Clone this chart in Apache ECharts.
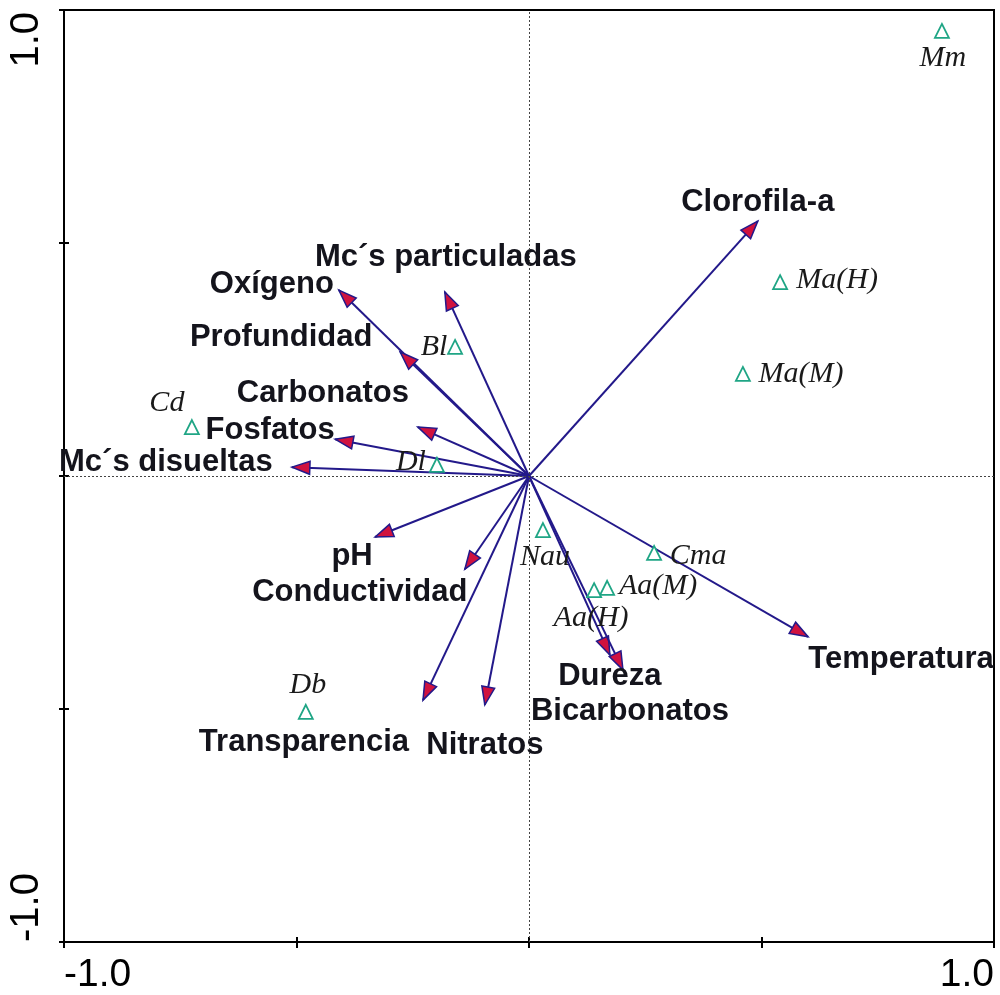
<!DOCTYPE html>
<html>
<head>
<meta charset="utf-8">
<style>
  html, body { margin: 0; padding: 0; background: #ffffff; }
  #chart { width: 1000px; height: 995px; }
</style>
<script src="https://cdn.jsdelivr.net/npm/echarts@6/dist/echarts.min.js"></script>
</head>
<body>
<div id="chart"></div>
<script>
// Environmental variables (biplot arrows): end-point coordinates on axes 1 and 2
const envNames = ['Clorofila-a', 'Mc\u00b4s particuladas', 'Ox\u00edgeno', 'Profundidad', 'Carbonatos',
  'Fosfatos', 'Mc\u00b4s disueltas', 'pH', 'Conductividad', 'Transparencia', 'Nitratos',
  'Dureza', 'Bicarbonatos', 'Temperatura'];
const envX = [0.492, -0.181, -0.409, -0.277, -0.239, -0.417, -0.510, -0.331, -0.138, -0.228, -0.095, 0.174, 0.202, 0.600];
const envY = [0.547, 0.395, 0.399, 0.266, 0.105, 0.079, 0.019, -0.131, -0.200, -0.481, -0.491, -0.384, -0.416, -0.345];

// Sampling sites (triangles)
const siteNames = ['Mm', 'Ma(H)', 'Ma(M)', 'Bl', 'Cd', 'Dl', 'Nau', 'Cma', 'Aa(M)', 'Aa(H)', 'Db'];
const siteX = [0.888, 0.540, 0.460, -0.159, -0.725, -0.198, 0.030, 0.269, 0.168, 0.140, -0.480];
const siteY = [0.955, 0.416, 0.219, 0.277, 0.105, 0.024, -0.116, -0.165, -0.240, -0.245, -0.506];

// Axis range and end tick labels
const axisMin = -1, axisMax = 1, axisStep = 0.5;
const tickValues = [-1, 1];
const tickLabels = ['-1.0', '1.0'];

// Label placement (pixel offsets from the mark)
const envLabelOffset = {
  'Clorofila-a': [0, -19], 'Mc\u00b4s particuladas': [1, -34], 'Ox\u00edgeno': [-67, -6],
  'Profundidad': [-119, -15], 'Carbonatos': [-95, -34], 'Fosfatos': [-65, -9],
  'Mc\u00b4s disueltas': [-126, -5], 'pH': [-23, 19], 'Conductividad': [-105, 23],
  'Transparencia': [-119, 42], 'Nitratos': [0, 41], 'Dureza': [0, 22],
  'Bicarbonatos': [7, 42], 'Temperatura': [93, 23]
};
const siteLabelOffset = {
  'Mm': [1, 27], 'Ma(H)': [57, -2], 'Ma(M)': [58, 0], 'Bl': [-21, 0], 'Cd': [-25, -24],
  'Dl': [-26, -3], 'Nau': [2, 27], 'Cma': [44, 3], 'Aa(M)': [51, -2], 'Aa(H)': [-3, 28], 'Db': [2, -27]
};

const NAVY = '#23198a';
const HEAD = '#d0123f';
const TEAL = '#1fa585';
const SANS_FONT = '"Liberation Sans", Arial, sans-serif';
const SERIF_FONT = '"Liberation Serif", "Times New Roman", serif';

const envData = envNames.map((n, i) => ({ name: n, value: [envX[i], envY[i]] }));
const siteData = siteNames.map((n, i) => ({ name: n, value: [siteX[i], siteY[i]] }));

function renderArrow(params, api) {
  const o = api.coord([0, 0]);
  const t = api.coord([api.value(0), api.value(1)]);
  const dx = t[0] - o[0], dy = t[1] - o[1];
  const len = Math.sqrt(dx * dx + dy * dy);
  const ux = dx / len, uy = dy / len;
  const hl = 18, hw = 6.5;
  const bx = t[0] - ux * hl, by = t[1] - uy * hl;
  const nx = -uy, ny = ux;
  return {
    type: 'group',
    children: [
      { type: 'line', shape: { x1: o[0], y1: o[1], x2: t[0], y2: t[1] },
        style: { stroke: NAVY, lineWidth: 2 } },
      { type: 'polygon',
        shape: { points: [[t[0], t[1]], [bx + nx * hw, by + ny * hw], [bx - nx * hw, by - ny * hw]] },
        style: { fill: HEAD, stroke: NAVY, lineWidth: 1.5, lineJoin: 'miter' } }
    ]
  };
}

const chart = echarts.init(document.getElementById('chart'), null, { renderer: 'canvas' });

const option = {
  animation: false,
  backgroundColor: '#ffffff',
  grid: { left: 64, right: 6, top: 10, bottom: 53, show: true, borderColor: '#000', borderWidth: 2, backgroundColor: 'transparent' },
  xAxis: [
    { type: 'value', min: axisMin, max: axisMax, interval: axisStep,
      axisLine: { show: true, onZero: false, lineStyle: { color: '#000', width: 2 } },
      axisTick: { show: true, length: 6, lineStyle: { color: '#000', width: 2 } },
      axisLabel: { show: false }, splitLine: { show: false } },
    { type: 'value', min: axisMin, max: axisMax, interval: axisStep, position: 'bottom',
      axisLine: { show: false, onZero: false },
      axisTick: { show: true, inside: true, length: 5, lineStyle: { color: '#000', width: 2 } },
      axisLabel: { show: false }, splitLine: { show: false } }
  ],
  yAxis: [
    { type: 'value', min: axisMin, max: axisMax, interval: axisStep,
      axisLine: { show: true, onZero: false, lineStyle: { color: '#000', width: 2 } },
      axisTick: { show: true, length: 5, lineStyle: { color: '#000', width: 2 } },
      axisLabel: { show: false }, splitLine: { show: false } },
    { type: 'value', min: axisMin, max: axisMax, interval: axisStep, position: 'left',
      axisLine: { show: false, onZero: false },
      axisTick: { show: true, inside: true, length: 5, lineStyle: { color: '#000', width: 2 } },
      axisLabel: { show: false }, splitLine: { show: false } }
  ],
  series: [
    {
      // dotted origin lines
      type: 'scatter', data: [], silent: true,
      markLine: {
        silent: true, symbol: 'none', label: { show: false },
        lineStyle: { type: [2, 2], color: '#444', width: 1 },
        data: [{ xAxis: 0 }, { yAxis: 0 }]
      }
    },
    {
      type: 'custom', name: 'variables', renderItem: renderArrow,
      encode: { x: 0, y: 1 }, data: envData, z: 3, clip: false
    },
    {
      type: 'scatter', name: 'variable labels', data: envData, symbolSize: 0, z: 4, silent: true,
      itemStyle: { opacity: 1 },
      label: {
        show: true, position: 'inside',
        formatter: p => p.name,
        fontFamily: SANS_FONT, fontWeight: 'bold', fontSize: 31, color: '#14141c'
      },
      labelLayout: p => ({ dx: envLabelOffset[envNames[p.dataIndex]][0], dy: envLabelOffset[envNames[p.dataIndex]][1] })
    },
    {
      type: 'scatter', name: 'sites', data: siteData, symbol: 'triangle', symbolSize: 14, z: 5,
      itemStyle: { color: '#ffffff', borderColor: TEAL, borderWidth: 1.8, opacity: 1 },
      label: {
        show: true, position: 'inside',
        formatter: p => p.name,
        fontFamily: SERIF_FONT, fontStyle: 'italic', fontSize: 30, color: '#1a1a1a'
      },
      labelLayout: p => ({ dx: siteLabelOffset[siteNames[p.dataIndex]][0], dy: siteLabelOffset[siteNames[p.dataIndex]][1] })
    }
  ]
};
chart.setOption(option);

// End tick labels: x labels sit under the axis, y labels run bottom-to-top
function placeTickLabels() {
  const els = [];
  tickValues.forEach((v, i) => {
    const px = chart.convertToPixel({ xAxisIndex: 0 }, v);
    els.push({
      type: 'text', x: px, y: 975, silent: true,
      style: { text: tickLabels[i], font: '39px ' + SANS_FONT, fill: '#000',
        align: i === 0 ? 'left' : 'right', verticalAlign: 'middle' }
    });
    const py = chart.convertToPixel({ yAxisIndex: 0 }, v);
    els.push({
      type: 'text', x: 27, y: py + (i === 0 ? 0 : 2), rotation: Math.PI / 2, silent: true,
      style: { text: tickLabels[i], font: '40px ' + SANS_FONT, fill: '#000',
        align: i === 0 ? 'left' : 'right', verticalAlign: 'middle' }
    });
  });
  chart.setOption({ graphic: els });
}
placeTickLabels();
</script>
</body>
</html>
